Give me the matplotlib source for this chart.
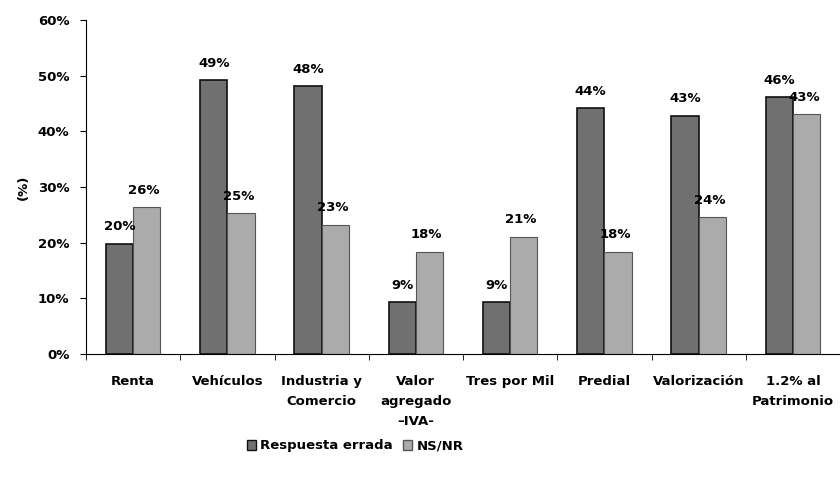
import numpy as np
import matplotlib
matplotlib.use("Agg")
import matplotlib.pyplot as plt
from matplotlib.patches import Patch

categorias = ["Renta", "Vehículos", "Industria y\nComercio", "Valor\nagregado\n–IVA-",
              "Tres por Mil", "Predial", "Valorización", "1.2% al\nPatrimonio"]
errada = [19.8, 49.2, 48.1, 9.3, 9.3, 44.2, 42.8, 46.1]
nsnr = [26.4, 25.3, 23.2, 18.4, 21.1, 18.4, 24.6, 43.1]
etiq_errada = ["20%", "49%", "48%", "9%", "9%", "44%", "43%", "46%"]
etiq_nsnr = ["26%", "25%", "23%", "18%", "21%", "18%", "24%", "43%"]
yticks = [0, 10, 20, 30, 40, 50, 60]

plt.rcParams['font.family'] = ['DejaVu Sans']
plt.rcParams['font.weight'] = 'bold'
fs = 9.5

fig = plt.figure(figsize=(8.4, 4.79), dpi=100)
ax = fig.add_axes([86 / 840, 1 - 354 / 479, 754 / 840, 334 / 479])

x = np.arange(len(categorias))
w = 0.29
b1 = ax.bar(x - w / 2, errada, w, color='#707070', edgecolor='#111111', linewidth=1.2)
b2 = ax.bar(x + w / 2, nsnr, w, color='#ababab', edgecolor='#555555', linewidth=0.8)

# etiquetas de valor encima de cada barra
for rect, t in zip(b1, etiq_errada):
    ax.annotate(t, (rect.get_x() + rect.get_width() / 2, rect.get_height()),
                xytext=(0, 7.5), textcoords='offset points', ha='center', va='bottom',
                fontsize=fs, fontweight='bold')
for rect, t in zip(b2, etiq_nsnr):
    ax.annotate(t, (rect.get_x() + rect.get_width() / 2, rect.get_height()),
                xytext=(-2, 7.5), textcoords='offset points', ha='center', va='bottom',
                fontsize=fs, fontweight='bold')

ax.set_xlim(-0.5, len(categorias) - 0.5)
ax.set_ylim(0, 60)
ax.set_yticks(yticks)
ax.set_yticklabels([f"{v}%" for v in yticks], fontsize=fs, fontweight='bold')
ax.set_xticks(x)
ax.set_xticklabels(categorias, fontsize=fs, fontweight='bold', linespacing=1.7)
ax.set_xticks(np.arange(len(categorias) + 1) - 0.5, minor=True)
ax.tick_params(axis='x', which='major', length=0, pad=15)
ax.tick_params(axis='x', which='minor', length=4, direction='out')
ax.tick_params(axis='y', length=4, direction='out', pad=8)

for s in ['top', 'right']:
    ax.spines[s].set_visible(False)

ax.set_ylabel("(%)", fontsize=fs, fontweight='bold', labelpad=6)

handles = [Patch(facecolor='#707070', edgecolor='#111111'),
           Patch(facecolor='#ababab', edgecolor='#555555')]
fig.legend(handles, ["Respuesta errada", "NS/NR"], loc='center',
           bbox_to_anchor=(355 / 840, 1 - 446 / 479), ncol=2, frameon=False,
           fontsize=fs, handlelength=0.7, handleheight=0.7, handletextpad=0.3,
           columnspacing=0.8)

fig.savefig("out.png", dpi=100)
